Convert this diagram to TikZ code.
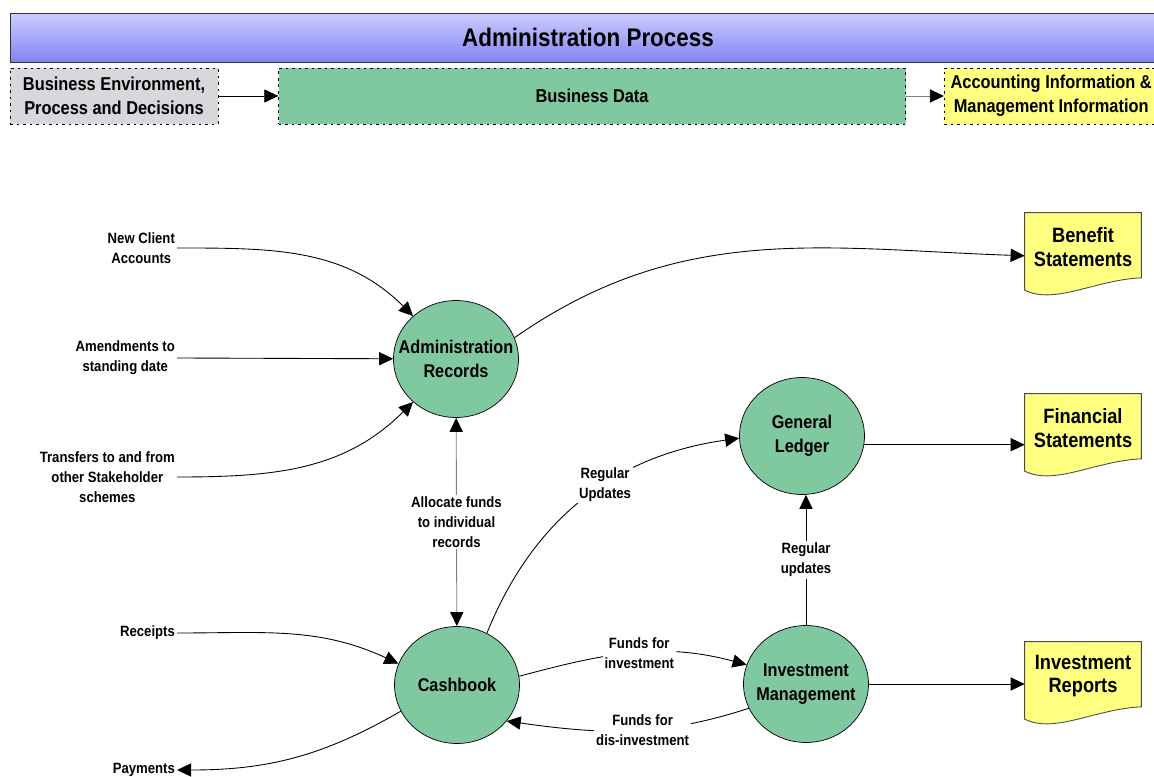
\documentclass[tikz,border=0pt]{standalone}
\usepackage{fontspec}
\setmainfont{Liberation Sans}[FakeStretch=0.88]
\usepackage{tikz}
\usetikzlibrary{shapes.geometric, arrows.meta, positioning, backgrounds}

\definecolor{procgreen}{HTML}{80C8A0}
\definecolor{envgray}{HTML}{D8D8DC}
\definecolor{docyellow}{HTML}{FFFF80}
\definecolor{bannertop}{HTML}{CCCCFF}
\definecolor{bannerbot}{HTML}{8484F2}
\definecolor{linegray}{HTML}{808080}

\begin{document}
\begin{tikzpicture}[
    x=0.02cm, y=-0.02cm,
    every node/.style={font=\bfseries},
    >={Triangle[length=8pt, width=7.5pt, color=black]},
    banner/.style={rectangle, draw=black!80, top color=bannertop, bottom color=bannerbot,
                   minimum width=23.12cm, minimum height=0.98cm,
                   font=\fontsize{14.5}{17}\selectfont\bfseries},
    topbox/.style={rectangle, draw, dash pattern=on 1.5pt off 2.2pt, align=center,
                   minimum height=1.12cm, inner sep=1pt,
                   font=\fontsize{10.6}{13.6}\selectfont\bfseries},
    proc/.style={ellipse, draw, fill=procgreen, align=center, inner xsep=-10pt, inner ysep=0pt,
                 minimum width=2.5cm, minimum height=2.34cm,
                 font=\fontsize{10.5}{13.6}\selectfont\bfseries},
    doc/.style={rectangle, align=center, minimum width=2.32cm, minimum height=1.36cm,
                font=\fontsize{11.8}{13.6}\selectfont\bfseries},
    docshape/.style={draw=black!70, fill=docyellow, line width=0.5pt},
    ext/.style={align=center, inner sep=1pt, anchor=east,
                font=\fontsize{8.5}{11.3}\selectfont\bfseries},
    flow/.style={fill=white, align=center, inner sep=1pt,
                 font=\fontsize{8.5}{11.3}\selectfont\bfseries},
    arr/.style={->, line width=0.5pt},
    grayarr/.style={arr, draw=linegray}
]
\useasboundingbox (0,0) rectangle (1154,777);

% header
\node[banner] (title) at (588,37.5) {Administration Process};
\node[topbox, fill=envgray, minimum width=4.16cm] (env) at (114,96)
    {Business Environment,\\Process and Decisions};
\node[topbox, fill=procgreen, minimum width=12.54cm, right=1.2cm of env] (data) {Business Data};
\node[topbox, fill=docyellow, minimum width=4.28cm, right=0.76cm of data] (info)
    {Accounting Information \&\\Management Information};

\draw[arr] (env) -- (data);
\draw[grayarr] (data) -- (info);

% processes
\node[proc] (admin)  at (456,359) {Administration\\Records};
\node[proc] (ledger) at (802,436) {General\\Ledger};
\node[proc] (cash)   at (457,685) {Cashbook};
\node[proc] (invest) at (806,684) {Investment\\Management};

% outputs (document shape drawn behind)
\node[doc] (benefit) at (1083,247) {Benefit\\Statements};
\node[doc] (finstat) at (1083,428) {Financial\\Statements};
\node[doc] (invrep)  at (1083,676) {Investment\\Reports};
\begin{scope}[on background layer]
\foreach \d in {benefit, finstat, invrep}
    \draw[docshape] (\d.north west) -- (\d.north east) -- ([yshift=2pt]\d.south east)
        .. controls +(-46,2) and +(30,15) .. ([yshift=-5pt]\d.south west) -- cycle;
\end{scope}

% sources and sinks
\node[ext] (newacc)   at (177,248) {New Client\\Accounts};
\node[ext] (amend)    at (177,358) {Amendments to\\standing date};
\node[ext] (transfer) at (177,477) {Transfers to and from\\other Stakeholder\\schemes};
\node[ext] (receipts) at (177,633) {Receipts};
\node[ext] (payments) at (177,770) {Payments};

\draw[arr] (newacc.east) to[out=0, in=135] (admin);
\draw[arr] (amend.east) -- (admin);
\draw[arr] (transfer.east) to[out=0, in=-135] (admin);
\draw[arr] (receipts.east) to[out=0, in=155] (cash.160);
\draw[arr] (cash.205) to[out=210, in=0] (payments.east);

\draw[arr] (admin.20) to[out=35, in=178] ([yshift=-5pt]benefit.west);
\draw[grayarr, <->] (admin) -- node[flow]{Allocate funds\\to individual\\records} (cash);
\draw[arr] (cash.60) to[out=68, in=188] node[flow, pos=0.58]{Regular\\Updates} (ledger.182);
\draw[arr] (ledger.-8) -- (ledger.-8 -| finstat.west);
\draw[arr] (invest) -- node[flow]{Regular\\updates} (invest |- ledger.south);
\draw[arr] (cash.8) to[out=15, in=165] node[flow, pos=0.53]{Funds for\\investment} (invest.162);
\draw[arr] (invest.203) to[out=198, in=-8] node[flow, pos=0.44]{Funds for\\dis-investment} (cash.-36);
\draw[arr] (invest) -- (invest -| invrep.west);
\end{tikzpicture}
\end{document}
